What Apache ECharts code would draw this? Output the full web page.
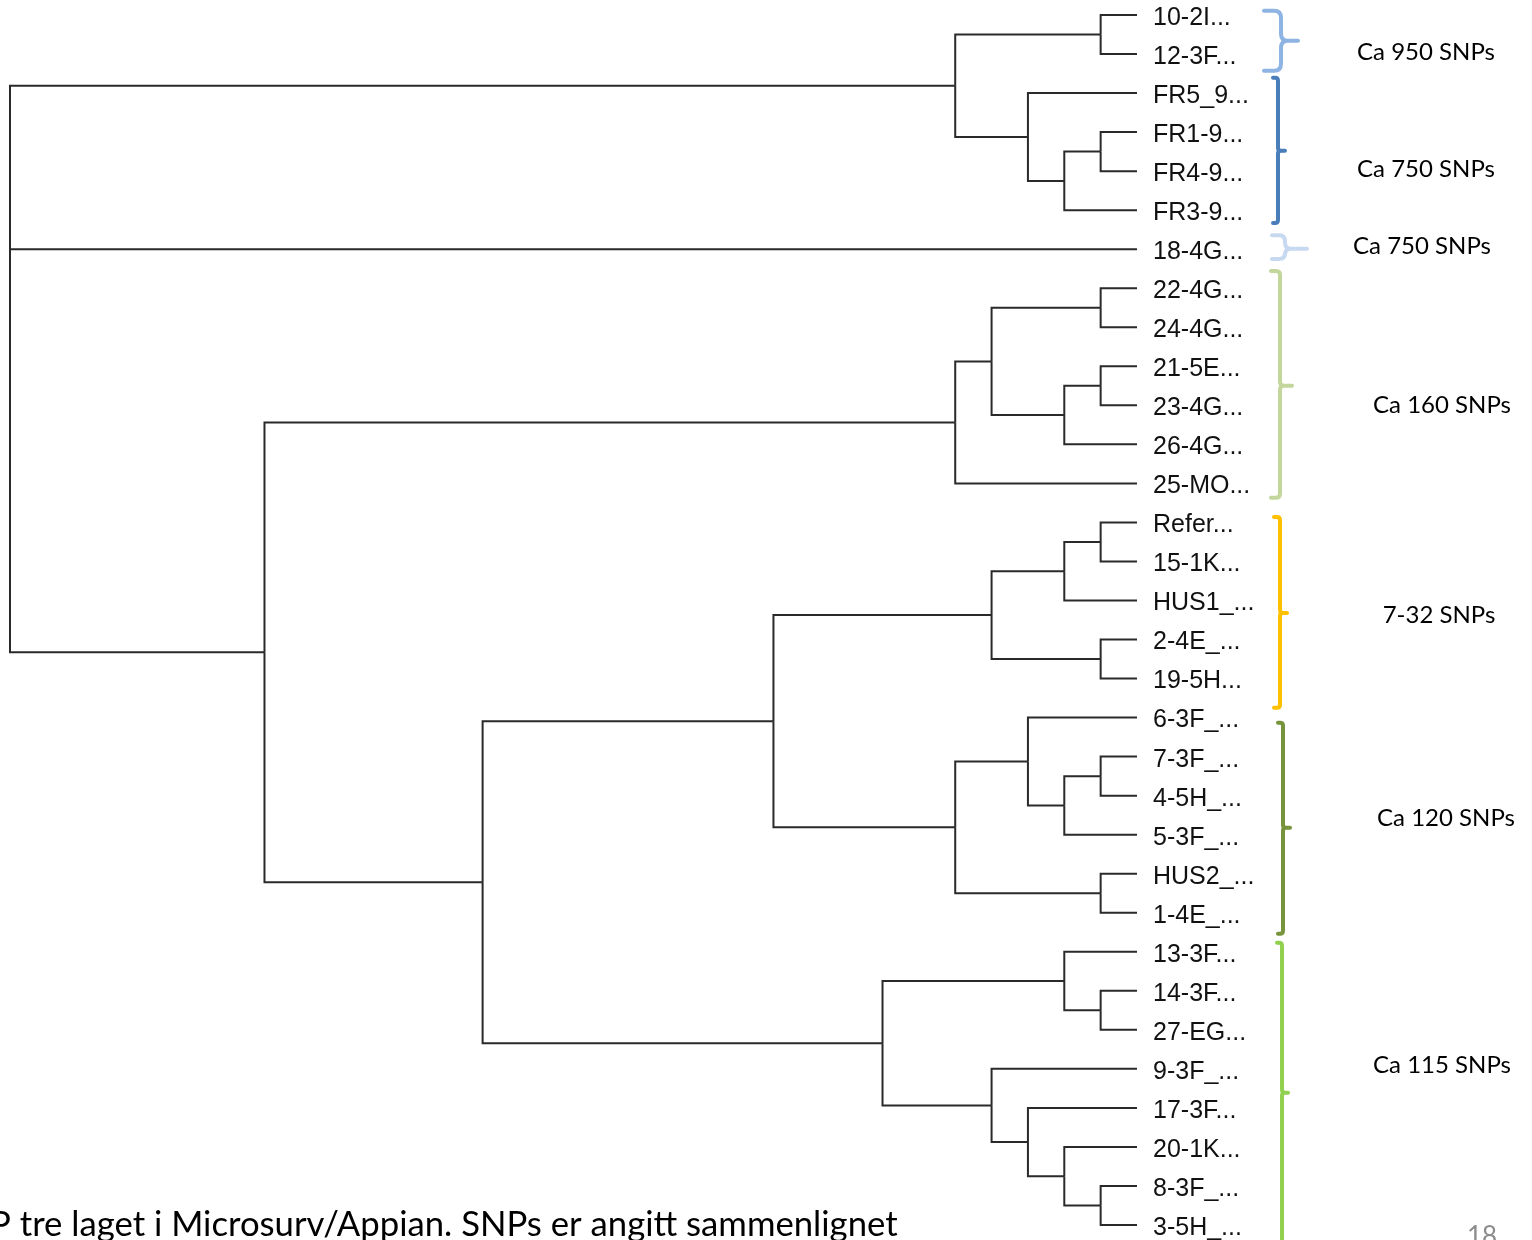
<!DOCTYPE html>
<html>
<head>
<meta charset="utf-8">
<title>SNP-tre</title>
<script src="https://cdn.jsdelivr.net/npm/echarts@6/dist/echarts.min.js"></script>
<style>
  html, body { margin: 0; padding: 0; background: #ffffff; overflow: hidden; }
  #chart { width: 1532px; height: 1240px; }
</style>
</head>
<body>
<div id="chart"></div>
<script>
// Leaf names, top to bottom (already truncated as in the tree viewer)
const leafLabels = [
  '10-2I...', '12-3F...', 'FR5_9...', 'FR1-9...', 'FR4-9...', 'FR3-9...',
  '18-4G...',
  '22-4G...', '24-4G...', '21-5E...', '23-4G...', '26-4G...', '25-MO...',
  'Refer...', '15-1K...', 'HUS1_...', '2-4E_...', '19-5H...',
  '6-3F_...', '7-3F_...', '4-5H_...', '5-3F_...', 'HUS2_...', '1-4E_...',
  '13-3F...', '14-3F...', '27-EG...', '9-3F_...', '17-3F...', '20-1K...', '8-3F_...', '3-5H_...'
];

// Tree topology: an internal node is [height, child, child, ...]; a number is a leaf index
const tree = [31,
  [5, [1, 0, 1], [3, 2, [2, [1, 3, 4], 5]]],
  6,
  [24,
    [5, [4, [1, 7, 8], [2, [1, 9, 10], 11]], 12],
    [18,
      [10,
        [4, [2, [1, 13, 14], 15], [1, 16, 17]],
        [5, [3, 18, [2, [1, 19, 20], 21]], [1, 22, 23]]
      ],
      [7,
        [2, 24, [1, 25, 26]],
        [4, 27, [3, 28, [2, 29, [1, 30, 31]]]]
      ]
    ]
  ]
];

// Cluster brackets: [from, to, tip, label position] in leaf-row units
const braceSpans = [
  [-0.11, 1.43, 0.66, 0.95],
  [1.61, 5.33, 3.48, 3.94],
  [5.64, 6.25, 5.99, 5.92],
  [6.56, 12.37, 9.50, 9.99],
  [12.86, 17.75, 15.32, 15.39],
  [18.13, 23.54, 20.82, 20.57],
  [23.77, 31.6, 27.61, 26.92]
];
const braceLabels = ['Ca 950 SNPs', 'Ca 750 SNPs', 'Ca 750 SNPs', 'Ca 160 SNPs', '7-32 SNPs', 'Ca 120 SNPs', 'Ca 115 SNPs'];
const braceColors = ['#8DB4E2', '#4A7EBB', '#C6D9F0', '#C3D69B', '#FFC000', '#77933C', '#92D050'];

// Bracket drawing style (pixel offsets from the leaf tips)
const braceStyle = [
  { dx: 144, arm: 17, tip: 17, r: 7, labelDx: 289 },
  { dx: 141, arm: 5,  tip: 7,  r: 3, labelDx: 289 },
  { dx: 148, arm: 13, tip: 22, r: 6, labelDx: 285 },
  { dx: 143, arm: 9,  tip: 12, r: 4, labelDx: 305 },
  { dx: 143, arm: 6,  tip: 7,  r: 3, labelDx: 302 },
  { dx: 146, arm: 5,  tip: 7,  r: 3, labelDx: 309 },
  { dx: 145, arm: 5,  tip: 6,  r: 3, labelDx: 305 }
];

// Build elbow segments from the tree
const segments = [];
function walk(node) {
  if (typeof node === 'number') return { y: node, h: 0 };
  const h = node[0];
  const kids = node.slice(1).map(walk);
  const y = (kids[0].y + kids[kids.length - 1].y) / 2;
  kids.forEach(k => segments.push({ coords: [[h, y], [h, k.y], [k.h, k.y]] }));
  return { y, h };
}
walk(tree);

const chart = echarts.init(document.getElementById('chart'), null, { renderer: 'canvas' });

function leafItem(params, api) {
  const p = api.coord([api.value(0), api.value(1)]);
  return {
    type: 'text',
    x: p[0] + 16,
    y: p[1] + 3,
    style: {
      text: leafLabels[params.dataIndex],
      font: '25px "Liberation Sans"',
      fill: '#111111',
      align: 'left',
      verticalAlign: 'middle'
    }
  };
}

function braceItem(params, api) {
  const i = params.dataIndex;
  const s = braceStyle[i];
  const tipX = api.coord([0, 0])[0];
  const yTop = api.coord([0, api.value(0)])[1];
  const yBot = api.coord([0, api.value(1)])[1];
  const yTip = api.coord([0, api.value(2)])[1];
  const yLab = api.coord([0, api.value(3)])[1];
  const xv = tipX + s.dx, xa = xv - s.arm, xt = xv + s.tip, r = s.r;
  const d = [
    'M', xa, yTop, 'L', xv - r, yTop, 'Q', xv, yTop, xv, yTop + r,
    'L', xv, yTip - r, 'Q', xv, yTip, xv + r, yTip, 'L', xt, yTip,
    'M', xv + r, yTip, 'Q', xv, yTip, xv, yTip + r,
    'L', xv, yBot - r, 'Q', xv, yBot, xv - r, yBot, 'L', xa, yBot
  ].join(' ');
  return {
    type: 'group',
    children: [
      {
        type: 'path',
        shape: { pathData: d },
        style: { fill: null, stroke: braceColors[i], lineWidth: 4, lineCap: 'round', lineJoin: 'round' }
      },
      {
        type: 'text',
        x: tipX + s.labelDx,
        y: yLab,
        style: {
          text: braceLabels[i],
          font: '24px Lato',
          fill: '#000000',
          align: 'center',
          verticalAlign: 'middle'
        }
      }
    ]
  };
}

chart.setOption({
  animation: false,
  backgroundColor: '#ffffff',
  grid: { left: 10, right: 395, top: 15, bottom: 15, containLabel: false },
  xAxis: { type: 'value', inverse: true, min: 0, max: 31, show: false },
  yAxis: { type: 'value', inverse: true, min: 0, max: 31, show: false },
  series: [
    {
      type: 'lines',
      coordinateSystem: 'cartesian2d',
      polyline: true,
      silent: true,
      lineStyle: { color: '#2a2a2a', width: 2, opacity: 1 },
      data: segments
    },
    {
      type: 'custom',
      coordinateSystem: 'cartesian2d',
      silent: true,
      clip: false,
      encode: { x: 0, y: 1 },
      data: leafLabels.map((name, i) => [0, i]),
      renderItem: leafItem
    },
    {
      type: 'custom',
      coordinateSystem: 'cartesian2d',
      silent: true,
      clip: false,
      encode: { x: 4, y: 0 },
      data: braceSpans.map(b => [b[0], b[1], b[2], b[3], 0]),
      renderItem: braceItem
    }
  ],
  graphic: [
    {
      type: 'text',
      left: -10,
      top: 1207,
      silent: true,
      style: { text: 'P tre laget i Microsurv/Appian. SNPs er angitt sammenlignet', font: '34.7px Lato', fill: '#000000' }
    },
    {
      type: 'text',
      left: 1467,
      top: 1224,
      silent: true,
      style: { text: '18', font: '26px Lato', fill: '#8C8C8C' }
    }
  ]
});
</script>
</body>
</html>
